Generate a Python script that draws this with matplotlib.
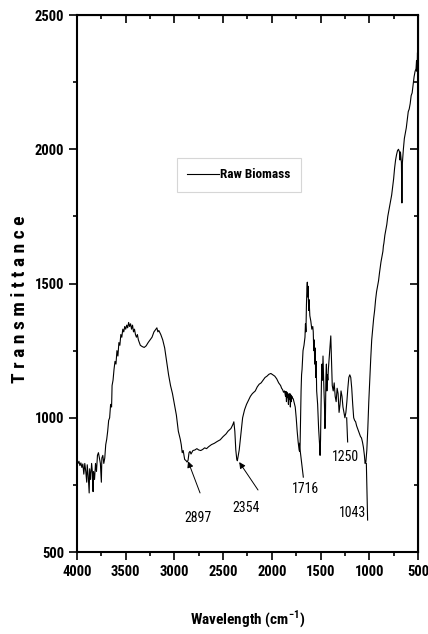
import matplotlib
matplotlib.use("Agg")
import matplotlib.pyplot as plt
from matplotlib.ticker import MultipleLocator
from matplotlib import font_manager

# pick a narrow/condensed face if available
_names = {f.name for f in font_manager.fontManager.ttflist}
NARROW = None
for cand in ['Liberation Sans Narrow', 'Arial Narrow', 'Roboto Condensed', 'Open Sans Condensed',
             'Noto Sans Condensed', 'DejaVu Sans Condensed']:
    if cand in _names:
        NARROW = cand
        break
STRETCH = 'normal'
if NARROW is None:
    for fam in ['Noto Sans', 'Open Sans', 'Roboto', 'DejaVu Sans']:
        if fam in _names:
            fp = font_manager.FontProperties(family=fam, stretch='condensed', weight='bold')
            path = font_manager.findfont(fp, fallback_to_default=False)
            if 'ondensed' in path or 'arrow' in path:
                NARROW = fam
                STRETCH = 'condensed'
                break
if NARROW is None:
    NARROW = 'Liberation Sans'
FONT = [NARROW, 'DejaVu Sans']
plt.rcParams['font.family'] = FONT
plt.rcParams['font.stretch'] = STRETCH

wavenumber = [
    4000, 3990, 3980, 3970, 3960, 3950, 3940, 3930, 3920, 3910, 3900, 3895, 3885, 3875, 3870,
    3860, 3850, 3840, 3835, 3830, 3820, 3810, 3800, 3790, 3780, 3770, 3760, 3750, 3745, 3735,
    3725, 3715, 3705, 3695, 3685, 3675, 3665, 3655, 3645, 3640, 3630, 3620, 3610, 3600, 3590,
    3580, 3570, 3560, 3550, 3540, 3530, 3520, 3510, 3500, 3490, 3480, 3470, 3460, 3450, 3440,
    3430, 3420, 3410, 3400, 3390, 3380, 3370, 3350, 3330, 3310, 3290, 3270, 3250, 3230, 3210,
    3190, 3180, 3170, 3160, 3140, 3120, 3100, 3080, 3060, 3040, 3020, 3000, 2980, 2960, 2940,
    2930, 2920, 2910, 2895, 2880, 2870, 2860, 2850, 2840, 2830, 2810, 2790, 2770, 2750, 2730,
    2710, 2690, 2670, 2650, 2620, 2590, 2560, 2530, 2500, 2470, 2450, 2420, 2400, 2390, 2380,
    2370, 2360, 2354, 2345, 2335, 2320, 2300, 2280, 2260, 2240, 2220, 2200, 2170, 2150, 2130,
    2110, 2090, 2070, 2050, 2030, 2010, 1990, 1970, 1950, 1930, 1910, 1900, 1890, 1880, 1870,
    1860, 1855, 1850, 1845, 1840, 1835, 1830, 1825, 1820, 1815, 1810, 1805, 1800, 1795, 1790,
    1780, 1770, 1760, 1750, 1740, 1730, 1720, 1716, 1710, 1705, 1700, 1695, 1690, 1680, 1670,
    1660, 1655, 1650, 1645, 1640, 1636, 1632, 1628, 1622, 1618, 1610, 1600, 1590, 1580, 1575,
    1570, 1565, 1560, 1555, 1550, 1545, 1540, 1530, 1520, 1510, 1505, 1500, 1495, 1490, 1485,
    1480, 1475, 1470, 1465, 1460, 1455, 1450, 1445, 1440, 1435, 1430, 1425, 1420, 1410, 1400,
    1395, 1390, 1385, 1380, 1370, 1360, 1350, 1340, 1330, 1320, 1310, 1300, 1290, 1280, 1270,
    1260, 1250, 1240, 1230, 1220, 1210, 1200, 1190, 1180, 1170, 1160, 1150, 1140, 1130, 1120,
    1110, 1100, 1090, 1080, 1070, 1060, 1050, 1043, 1035, 1025, 1015, 1005, 995, 985, 975,
    965, 955, 945, 935, 925, 915, 905, 895, 880, 865, 860, 855, 850, 840, 820,
    810, 790, 780, 770, 760, 750, 740, 730, 720, 710, 700, 690, 685, 680, 675,
    670, 665, 660, 650, 640, 630, 620, 610, 600, 590, 580, 570, 560, 550, 540,
    530, 520, 515, 510, 505, 502, 500,
]
transmittance = [
    835, 830, 838, 822, 832, 815, 828, 790, 830, 800, 760, 825, 785, 720, 810,
    770, 830, 790, 725, 800, 770, 830, 800, 860, 870, 850, 830, 760, 850, 860,
    830, 850, 900, 920, 950, 990, 1000, 1050, 1040, 1120, 1140, 1180, 1210, 1200, 1250,
    1230, 1280, 1270, 1310, 1300, 1330, 1320, 1340, 1330, 1345, 1335, 1355, 1340, 1350, 1330,
    1345, 1320, 1330, 1310, 1300, 1310, 1290, 1270, 1265, 1262, 1268, 1280, 1290, 1300, 1320,
    1330, 1335, 1320, 1325, 1310, 1290, 1260, 1210, 1160, 1120, 1090, 1050, 1010, 950, 920,
    900, 870, 878, 845, 840, 835, 842, 870, 875, 865, 878, 880, 885, 880, 878,
    882, 888, 885, 892, 900, 905, 912, 918, 930, 940, 950, 960, 975, 985, 950,
    880, 845, 840, 860, 880, 930, 1000, 1030, 1050, 1065, 1080, 1090, 1100, 1115, 1125,
    1130, 1140, 1150, 1155, 1162, 1165, 1160, 1155, 1145, 1130, 1120, 1110, 1105, 1095, 1100,
    1080, 1098, 1060, 1095, 1075, 1090, 1050, 1085, 1070, 1090, 1040, 1085, 1060, 1080, 1075,
    1070, 1055, 1040, 1000, 950, 910, 880, 875, 900, 1000, 1100, 1160, 1180, 1250, 1270,
    1300, 1350, 1320, 1420, 1480, 1505, 1450, 1490, 1400, 1440, 1380, 1360, 1330, 1340, 1320,
    1250, 1290, 1200, 1260, 1150, 1210, 1100, 1050, 960, 900, 860, 920, 1050, 1150, 1200,
    1140, 1230, 1160, 1100, 1050, 960, 1000, 1150, 1200, 1100, 1160, 1140, 1180, 1230, 1280,
    1305, 1240, 1180, 1120, 1100, 1130, 1080, 1060, 1110, 1090, 1020, 1050, 1100, 1080, 1040,
    1020, 1000, 1020, 1060, 1110, 1150, 1160, 1150, 1110, 1050, 1000, 990, 985, 970, 960,
    950, 940, 930, 925, 910, 890, 860, 830, 835, 880, 960, 1060, 1140, 1220, 1290,
    1330, 1370, 1400, 1440, 1470, 1490, 1510, 1540, 1580, 1610, 1620, 1640, 1650, 1680, 1720,
    1750, 1790, 1810, 1830, 1860, 1890, 1930, 1960, 1980, 1995, 2000, 1990, 1960, 1990, 1970,
    1950, 1800, 1950, 2000, 2040, 2060, 2080, 2110, 2140, 2150, 2170, 2200, 2210, 2240, 2270,
    2290, 2300, 2330, 2290, 2360, 2280, 2350,
]

x_ticks = [4000, 3500, 3000, 2500, 2000, 1500, 1000, 500]
y_ticks = [500, 1000, 1500, 2000, 2500]

# annotations: label, text position, line start (near text), line end (on curve)
peak_labels = ["2897", "2354", "1716", "1250", "1043"]
peak_text_xy = [(2760, 627), (2265, 664), (1659, 735), (1249, 854), (1032, 645)]
peak_text_ha = ['center', 'center', 'center', 'center', 'right']
peak_line_from = [(2737, 720), (2142, 731), (1677, 779), (1222, 910), (1017, 619)]
peak_line_to = [(2860, 838), (2335, 835), (1718, 905), (1232, 1000), (1030, 830)]
peak_heads = [True, True, False, False, False]

fig = plt.figure(figsize=(4.28, 6.34), dpi=100)
ax = fig.add_axes([0.1799, 0.1293, 0.7967, 0.847])
ax.plot(wavenumber, transmittance, color='black', lw=0.8, label='Raw Biomass')
ax.set_xlim(4000, 500)
ax.set_ylim(500, 2500)
ax.set_xticks(x_ticks)
ax.set_yticks(y_ticks)
ax.xaxis.set_minor_locator(MultipleLocator(250))
ax.yaxis.set_minor_locator(MultipleLocator(250))
ax.tick_params(which='both', direction='out', top=False, right=False, width=1.2)
ax.tick_params(which='major', length=6, labelsize=10.5, pad=3)
ax.tick_params(which='minor', length=3)
for lab in ax.get_xticklabels() + ax.get_yticklabels():
    lab.set_fontweight('bold')
for s in ax.spines.values():
    s.set_linewidth(1.5)

# inward ticks on top and right spines
axt = ax.secondary_xaxis('top')
axt.set_xticks(x_ticks)
axt.xaxis.set_minor_locator(MultipleLocator(250))
axt.tick_params(which='both', direction='in', labeltop=False, width=1.2)
axt.tick_params(which='major', length=6)
axt.tick_params(which='minor', length=3)
axr = ax.secondary_yaxis('right')
axr.set_yticks(y_ticks)
axr.yaxis.set_minor_locator(MultipleLocator(250))
axr.tick_params(which='both', direction='in', labelright=False, width=1.2)
axr.tick_params(which='major', length=6)
axr.tick_params(which='minor', length=3)

ax.set_xlabel('Wavelength (cm$^{\\mathregular{-1}}$)', fontsize=11, fontweight='bold', labelpad=22)
ax.set_ylabel('T r a n s m i t t a n c e', fontsize=14, fontweight='bold')
ax.yaxis.set_label_coords(-0.14, 0.47)

for lab, txy, ha, p0, p1, head in zip(peak_labels, peak_text_xy, peak_text_ha,
                                      peak_line_from, peak_line_to, peak_heads):
    ax.text(txy[0], txy[1], lab, fontsize=10, ha=ha, va='center')
    if head:
        ax.annotate('', xy=p1, xytext=p0,
                    arrowprops=dict(arrowstyle='-|>', color='black', lw=0.7,
                                    mutation_scale=9, shrinkA=0, shrinkB=0))
    else:
        ax.plot([p0[0], p1[0]], [p0[1], p1[1]], color='black', lw=0.8)

leg = ax.legend(loc='upper left', bbox_to_anchor=(0.293, 0.734), borderaxespad=0,
                fancybox=False, edgecolor='#cccccc', handlelength=2.4,
                prop={'family': FONT, 'weight': 'bold', 'size': 9.5, 'stretch': STRETCH},
                borderpad=0.8, handletextpad=0.1)
leg.get_frame().set_linewidth(0.8)

fig.savefig('out.png', dpi=100)
